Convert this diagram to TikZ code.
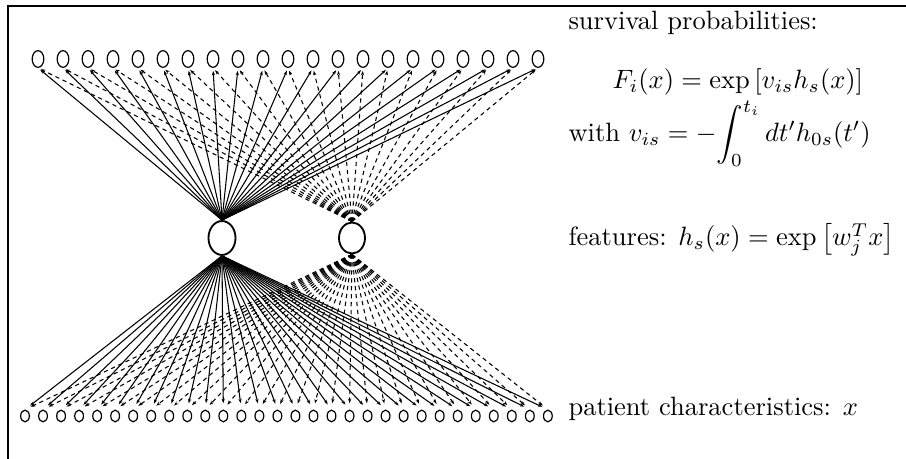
\documentclass[tikz,border=0pt]{standalone}
\usetikzlibrary{shapes.geometric,arrows.meta}
\begin{document}
\begin{tikzpicture}[x=0.37736pt,y=-0.37736pt,
  outn/.style={ellipse,draw,line width=0.45pt,inner sep=0pt,minimum width=4.4pt,minimum height=6.3pt},
  inn/.style={ellipse,draw,line width=0.45pt,inner sep=0pt,minimum width=3.3pt,minimum height=4.4pt},
  hid/.style={ellipse,draw,line width=0.7pt,inner sep=0pt},
  conn/.style={line width=0.4pt,-{Stealth[length=1.7pt,width=1.2pt]}},
  dconn/.style={conn,dash pattern=on 1.6pt off 1.4pt},
  lab/.style={anchor=base west,inner sep=0pt}]
\useasboundingbox (0,0) rectangle (906,459);
\draw[line width=1pt] (8,459) -- (8,6) -- (906,6);
\node[hid,minimum width=10.2pt,minimum height=12.8pt] (h1) at (222,238) {};
\node[hid,minimum width=9.8pt,minimum height=11.7pt] (h2) at (352,238) {};
\foreach \k in {0,...,20} \node[outn] (t\k) at ({38+25*\k},59) {};
\foreach \k in {0,...,29} \node[inn] (b\k) at ({25+18.03*\k},416) {};
\foreach \k in {0,...,20} {
  \draw[conn,shorten >=1.1pt] (h1.north) -- (t\k.south);
  \draw[dconn,shorten >=1.1pt] (h2.north) -- (t\k.south);
}
\foreach \k in {0,...,29} {
  \draw[conn,shorten >=2.4pt] (h1.south) -- (b\k.north);
  \draw[dconn,shorten >=2.4pt] (h2.south) -- (b\k.north);
}
\node[lab] (s1) at (568,30) {survival probabilities:};
\node[lab] (s2) at (612,89) {$F_i(x) = \exp\,[v_{is} h_s(x)]$};
\node[lab] (s3) at (568,142) {with $v_{is} = -\!\displaystyle\int_0^{t_i} dt' h_{0s}(t')$};
\node[lab] (s4) at (568,246) {features: $h_s(x) = \exp\left[w_j^T x\right]$};
\node[lab] (s5) at (568,416) {patient characteristics: $x$};
\end{tikzpicture}
\end{document}
